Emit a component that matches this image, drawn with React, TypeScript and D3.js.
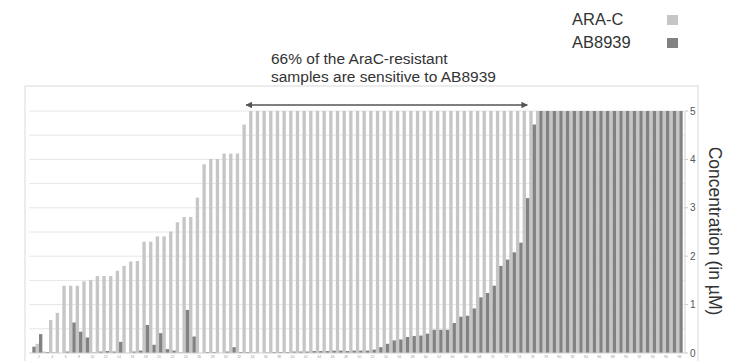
import React from "react";
import * as d3 from "d3";

// ARA-C and AB8939 concentrations (µM) per patient sample, capped at 5
const araC: number[] = [
  0, 0.19, 0.03, 0.68, 0.83, 1.39, 1.39, 1.39, 1.48, 1.51,
  1.59, 1.59, 1.59, 1.7, 1.8, 1.89, 1.9, 2.3, 2.3, 2.41,
  2.41, 2.51, 2.7, 2.81, 2.81, 3.21, 3.9, 4.01, 4.01, 4.12,
  4.12, 4.12, 4.72, 5, 5, 5, 5, 5, 5, 5,
  5, 5, 5, 5, 5, 5, 5, 5, 5, 5,
  5, 5, 5, 5, 5, 5, 5, 5, 5, 5,
  5, 5, 5, 5, 5, 5, 5, 5, 5, 5,
  5, 5, 5, 5, 5, 5, 5, 5, 5, 5,
  5, 5, 5, 5, 5, 5, 5, 5, 5, 5,
  5, 5, 5, 5, 5, 5, 5, 5,
];

const ab8939: number[] = [
  0.13, 0.39, 0.02, 0.01, 0, 0.03, 0.63, 0.44, 0.32, 0.01,
  0.03, 0.04, 0.03, 0.23, 0, 0.03, 0.05, 0.58, 0.17, 0.41,
  0.08, 0.05, 0.01, 0.89, 0.34, 0, 0.02, 0.02, 0, 0.03,
  0.12, 0.02, 0.02, 0.01, 0, 0.01, 0.02, 0.02, 0.02, 0.03,
  0.03, 0.03, 0.04, 0.04, 0.04, 0.05, 0.05, 0.04, 0.05, 0.05,
  0.05, 0.07, 0.12, 0.19, 0.26, 0.28, 0.33, 0.35, 0.36, 0.4,
  0.48, 0.48, 0.48, 0.62, 0.75, 0.77, 0.92, 1.15, 1.24, 1.39,
  1.8, 1.93, 2.08, 2.28, 3.2, 4.72, 5, 5, 5, 5,
  5, 5, 5, 5, 5, 5, 5, 5, 5, 5,
  5, 5, 5, 5, 5, 5, 5, 5,
];

const seriesNames = ["ARA-C", "AB8939"];
const seriesColors = ["#c6c6c6", "#828282"];
const yTicks = [0, 1, 2, 3, 4, 5];
const gridValues = [0.5, 1, 1.5, 2, 2.5, 3, 3.5, 4, 4.5, 5];
const annotationLines = ["66% of the AraC-resistant", "samples are sensitive to AB8939"];
const highlightRange = [33, 75]; // first and last sample under the arrow
const axisTitle = "Concentration (in µM)";

const W = 738;
const H = 361;
const FONT = "'Liberation Sans', Arial, sans-serif";

export default function App() {
  const samples = araC.map((_, i) => i);

  const x = d3
    .scaleBand<number>()
    .domain(samples)
    .range([29, 682.7])
    .paddingInner(0)
    .paddingOuter(0);

  const sub = d3
    .scaleBand<string>()
    .domain(seriesNames)
    .range([0, x.bandwidth()])
    .padding(0);

  const y = d3.scaleLinear().domain([0, 5]).range([353, 111]);

  const series = [araC, ab8939];

  const arrowY = 105;
  const arrowX0 = (x(highlightRange[0]) as number) - 3;
  const arrowX1 = (x(highlightRange[1]) as number) - 2;

  return (
    <svg
      width={W}
      height={H}
      viewBox={`0 0 ${W} ${H}`}
      style={{ position: "fixed", left: 0, top: 0, display: "block", background: "#fff" }}
      fontFamily={FONT}
    >
      <defs>
        <marker id="arrHead" viewBox="0 0 10 10" refX="9" refY="5" markerWidth="6" markerHeight="5" orient="auto-start-reverse">
          <path d="M0,0 L10,5 L0,10 z" fill="#555" />
        </marker>
      </defs>

      {/* plot frame */}
      <rect x={25} y={86} width={673} height={290} fill="none" stroke="#d9d9d9" strokeWidth={1} />

      {/* gridlines */}
      {gridValues.map((v) => (
        <line key={`g${v}`} x1={29} x2={684} y1={y(v)} y2={y(v)} stroke="#e6e6e6" strokeWidth={1} />
      ))}

      {/* bars */}
      {series.map((vals, s) =>
        vals.map((v, i) => {
          const bx = (x(i) as number) + (sub(seriesNames[s]) as number);
          return (
            <rect
              key={`b${s}-${i}`}
              x={bx}
              y={y(v)}
              width={sub.bandwidth()}
              height={Math.max(0, y(0) - y(v))}
              fill={seriesColors[s]}
            />
          );
        })
      )}

      {/* x baseline and tiny sample labels */}
      <line x1={29} x2={685} y1={y(0)} y2={y(0)} stroke="#cfcfcf" strokeWidth={1} />
      {samples
        .filter((i) => i % 2 === 1)
        .map((i) => (
          <text
            key={`xl${i}`}
            x={(x(i) as number) + x.bandwidth() / 2}
            y={358}
            fontSize={3.5}
            fill="#9a9a9a"
            textAnchor="middle"
          >
            {i + 1}
          </text>
        ))}

      {/* right axis */}
      <line x1={685} x2={685} y1={y(5)} y2={y(0)} stroke="#d0d0d0" strokeWidth={1} />
      {yTicks.map((t) => (
        <g key={`yt${t}`}>
          <line x1={685} x2={688} y1={y(t)} y2={y(t)} stroke="#c8c8c8" />
          <text x={690} y={y(t) + 3.5} fontSize={10} fill="#555">
            {t}
          </text>
        </g>
      ))}
      <text
        transform={`translate(709, ${231}) rotate(90)`}
        textAnchor="middle"
        fontSize={17.5}
        fill="#333"
      >
        {axisTitle}
      </text>

      {/* annotation */}
      {annotationLines.map((line, k) => (
        <text key={`an${k}`} x={271} y={63.5 + k * 18} fontSize={15.5} fill="#333">
          {line}
        </text>
      ))}
      <line
        x1={arrowX0}
        x2={arrowX1}
        y1={arrowY}
        y2={arrowY}
        stroke="#555"
        strokeWidth={1.3}
        markerStart="url(#arrHead)"
        markerEnd="url(#arrHead)"
      />

      {/* legend */}
      {seriesNames.map((name, s) => (
        <g key={`lg${s}`}>
          <text x={572} y={25 + s * 22.5} fontSize={16.5} fill="#333">
            {name}
          </text>
          <rect x={667} y={15 + s * 23} width={11} height={10} fill={seriesColors[s]} />
        </g>
      ))}
    </svg>
  );
}
